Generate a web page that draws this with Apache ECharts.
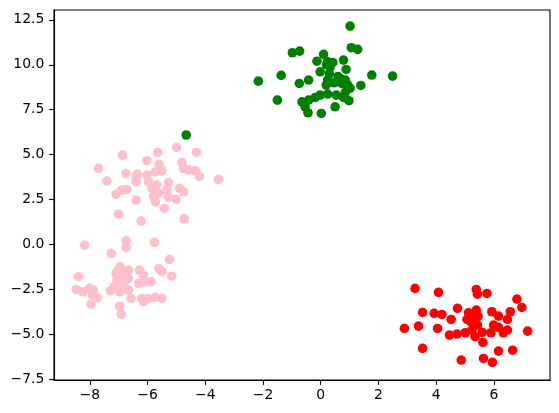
<!DOCTYPE html>
<html>
<head>
<meta charset="utf-8">
<script src="https://cdn.jsdelivr.net/npm/echarts@6/dist/echarts.min.js"></script>
<style>html,body{margin:0;padding:0;background:#fff}#c{width:559px;height:413px}</style>
</head>
<body>
<div id="c"></div>
<script>
var xTicks = [-8, -6, -4, -2, 0, 2, 4, 6];
var yTicks = [-7.5, -5, -2.5, 0, 2.5, 5, 7.5, 10, 12.5];

var greenPoints = [
  [1.02,12.15],[1.06,10.95],[1.28,10.86],[-0.98,10.67],[-0.73,10.76],[0.10,10.58],
  [-0.13,10.2],[0.24,10.17],[0.42,10.13],[0.79,10.26],[-0.02,9.61],[0.33,9.89],[0.88,9.74],
  [-2.16,9.09],[-1.37,9.41],[-0.74,8.96],[-0.42,9.15],[0.24,9.15],[0.19,8.87],[0.68,9.24],
  [0.65,9.05],[0.85,9.15],[1.02,8.69],[0.94,8.87],[1.39,8.85],[1.77,9.43],[2.49,9.37],
  [-1.50,8.03],[-0.65,7.94],[-0.42,8.03],[-0.19,8.18],[-0.02,8.31],[0.24,8.37],[0.54,8.31],
  [0.79,8.18],[0.98,8.0],[0.50,7.66],[-0.54,7.66],[-0.44,7.33],[0.02,7.29],
  [0.6,9.35],[0.75,8.95],[0.45,9.0],[0.3,9.5],[0.2,10.0],[0.85,8.45],[-4.66,6.09]
];

var pinkPoints = [
  [-4.99,5.40],[-4.31,5.12],[-5.65,5.12],[-6.87,4.97],[-7.70,4.23],[-6.02,4.66],[-5.60,4.45],
  [-4.81,4.56],[-4.75,4.23],[-4.58,4.14],[-4.35,4.10],[-4.20,3.77],[-5.50,4.10],[-5.73,4.04],
  [-6.02,3.86],[-6.35,3.91],[-6.75,3.95],[-7.41,3.52],[-6.39,3.49],[-5.97,3.49],[-5.68,3.30],
  [-5.27,3.43],[-3.54,3.62],[-4.89,3.12],[-4.75,2.93],[-5.33,3.02],[-5.73,2.98],[-6.72,3.06],
  [-6.89,3.02],[-7.09,2.80],[-6.39,3.77],[-5.79,2.69],[-5.73,2.37],[-5.27,2.62],[-5.01,2.51],
  [-6.40,2.47],[-5.42,2.00],[-7.01,1.69],[-6.22,1.30],[-4.73,1.42],[-5.85,3.12],[-5.62,2.84],
  [-8.18,-0.04],[-6.74,0.2],[-6.74,-0.17],[-7.26,-0.50],[-5.76,0.11],[-5.24,-0.84],
  [-8.39,-1.80],[-8.47,-2.51],[-8.24,-2.64],[-8.01,-2.45],[-7.87,-2.55],[-7.91,-2.82],
  [-7.75,-2.97],[-7.96,-3.32],[-7.29,-2.58],[-7.16,-2.36],[-6.95,-1.25],[-7.09,-1.62],
  [-7.06,-1.99],[-6.89,-1.71],[-6.66,-1.43],[-6.66,-1.89],[-6.83,-2.27],[-6.66,-2.55],
  [-6.57,-3.01],[-6.95,-2.64],[-6.97,-3.44],[-6.91,-3.88],[-6.28,-1.43],[-6.14,-1.71],
  [-6.31,-2.17],[-6.08,-2.08],[-5.88,-2.08],[-5.61,-1.34],[-5.50,-1.52],[-5.16,-1.77],
  [-6.20,-3.01],[-6.14,-3.19],[-5.97,-3.01],[-5.73,-2.95],[-5.50,-3.01],[-7.01,-1.43]
];

var redPoints = [
  [3.27,-2.45],[4.08,-2.67],[5.39,-2.51],[5.43,-2.77],[5.76,-2.73],[6.80,-3.05],[6.97,-3.51],
  [3.53,-3.79],[3.93,-3.84],[4.20,-3.90],[4.74,-3.56],[4.52,-4.18],[5.12,-3.81],[5.39,-3.66],
  [5.07,-4.18],[5.27,-4.03],[5.43,-4.49],[5.24,-4.77],[5.01,-4.92],[4.72,-4.99],[4.46,-5.05],
  [5.35,-5.14],[5.62,-5.46],[5.93,-3.75],[6.16,-3.99],[6.57,-3.75],[6.47,-4.18],[5.99,-4.49],
  [6.16,-4.62],[5.90,-4.92],[6.33,-4.92],[6.47,-4.77],[7.17,-4.83],[2.90,-4.68],[3.39,-4.55],
  [4.05,-4.68],[3.53,-5.79],[4.87,-6.44],[5.64,-6.35],[5.95,-6.57],[6.16,-5.94],[6.65,-5.89],
  [5.2,-4.3],[5.6,-4.9],[5.3,-4.5],[5.45,-4.0]
];

function fmt(v) {
  return String(v).replace('-', '\u2212');
}

var chart = echarts.init(document.getElementById('c'), null, {renderer: 'canvas'});
var labelStyle = {color: '#000', fontFamily: 'DejaVu Sans', fontSize: 13.9};
chart.setOption({
  animation: false,
  backgroundColor: '#fff',
  grid: {left: 54, right: 9, top: 10, bottom: 33, show: true, borderColor: '#000', borderWidth: 1.1, backgroundColor: 'transparent'},
  xAxis: {
    type: 'value', min: -9.241, max: 7.945,
    splitLine: {show: false},
    axisLine: {show: true, onZero: false, lineStyle: {color: '#000', width: 1.1}},
    axisTick: {show: true, length: 4.9, lineStyle: {color: '#000', width: 1.1}, customValues: xTicks},
    axisLabel: Object.assign({margin: 8.5, customValues: xTicks, formatter: function (v) { return fmt(v); }}, labelStyle)
  },
  yAxis: {
    type: 'value', min: -7.55, max: 13.05,
    splitLine: {show: false},
    axisLine: {show: true, onZero: false, lineStyle: {color: '#000', width: 1.1}},
    axisTick: {show: true, length: 4.9, lineStyle: {color: '#000', width: 1.1}, customValues: yTicks},
    axisLabel: Object.assign({margin: 9.7, customValues: yTicks, formatter: function (v) { return fmt(v.toFixed(1)); }}, labelStyle)
  },
  series: [
    {type: 'scatter', data: pinkPoints, symbolSize: 9.6, itemStyle: {color: '#FFC0CB', opacity: 1}},
    {type: 'scatter', data: greenPoints, symbolSize: 9.6, itemStyle: {color: '#008000', opacity: 1}},
    {type: 'scatter', data: redPoints, symbolSize: 9.6, itemStyle: {color: '#FF0000', opacity: 1}}
  ]
});
</script>
</body>
</html>
